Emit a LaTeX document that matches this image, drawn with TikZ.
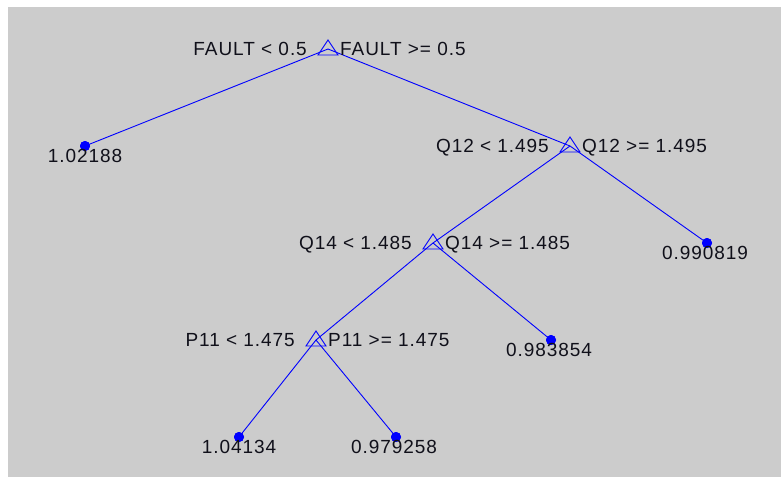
\documentclass[tikz,border=0pt]{standalone}
\usepackage{fontspec}
\newfontfamily\plotfont[LetterSpace=5]{Liberation Sans}
\definecolor{panel}{HTML}{CCCCCC}
\definecolor{treeblue}{HTML}{0000FF}
\definecolor{ink}{HTML}{10101A}
\tikzset{
  edge/.style={draw=treeblue, line width=0.9pt},
  leafdot/.style={circle, fill=treeblue, inner sep=0pt, minimum size=10pt},
  splitmark/.style={draw=treeblue, line width=0.9pt, line join=miter},
  rulelabel/.style={inner sep=0pt, text=ink, font=\plotfont\fontsize{19}{21}\selectfont},
}
\begin{document}
\begin{tikzpicture}[x=1pt, y=-1pt]
  % canvas and plotting panel
  \useasboundingbox (0,0) rectangle (781,477);
  \fill[white] (0,0) rectangle (781,477);
  \fill[panel] (8,7) rectangle (781,477);

  % split points
  \coordinate (root) at (328,49);
  \coordinate (q12)  at (570,146);
  \coordinate (q14)  at (433,243);
  \coordinate (p11)  at (316,340);

  % leaves
  \node[leafdot] (leafA) at (85,146)  {};
  \node[leafdot] (leafB) at (707,243) {};
  \node[leafdot] (leafC) at (551,340) {};
  \node[leafdot] (leafD) at (239,437) {};
  \node[leafdot] (leafE) at (396,437) {};

  % branches
  \draw[edge] (root) -- (leafA.center);
  \draw[edge] (root) -- (q12);
  \draw[edge] (q12) -- (q14);
  \draw[edge] (q12) -- (leafB.center);
  \draw[edge] (q14) -- (p11);
  \draw[edge] (q14) -- (leafC.center);
  \draw[edge] (p11) -- (leafD.center);
  \draw[edge] (p11) -- (leafE.center);

  % redraw dots above the branches
  \foreach \n in {leafA,leafB,leafC,leafD,leafE}
    \fill[treeblue] (\n.center) circle (5);

  % triangle markers at split points
  \foreach \n in {root,q12,q14,p11}
    \draw[splitmark] ([shift={(-10,6)}]\n) -- ([shift={(10,6)}]\n)
      -- ([shift={(0,-9)}]\n) -- cycle;

  % split rules
  \node[rulelabel, anchor=base east] at ([shift={(-21,6)}]root) {FAULT < 0.5};
  \node[rulelabel, anchor=base west] at ([shift={(12,6)}]root)  {FAULT >= 0.5};
  \node[rulelabel, anchor=base east] at ([shift={(-21,6)}]q12)  {Q12 < 1.495};
  \node[rulelabel, anchor=base west] at ([shift={(12,6)}]q12)   {Q12 >= 1.495};
  \node[rulelabel, anchor=base east] at ([shift={(-21,6)}]q14)  {Q14 < 1.485};
  \node[rulelabel, anchor=base west] at ([shift={(12,6)}]q14)   {Q14 >= 1.485};
  \node[rulelabel, anchor=base east] at ([shift={(-21,6)}]p11)  {P11 < 1.475};
  \node[rulelabel, anchor=base west] at ([shift={(12,6)}]p11)   {P11 >= 1.475};

  % leaf values
  \node[rulelabel, anchor=base] at ([shift={(0,16)}]leafA.center) {1.02188};
  \node[rulelabel, anchor=base] at ([shift={(-2,16)}]leafB.center) {0.990819};
  \node[rulelabel, anchor=base] at ([shift={(-2,16)}]leafC.center) {0.983854};
  \node[rulelabel, anchor=base] at ([shift={(0,16)}]leafD.center) {1.04134};
  \node[rulelabel, anchor=base] at ([shift={(-2,16)}]leafE.center) {0.979258};
\end{tikzpicture}
\end{document}
